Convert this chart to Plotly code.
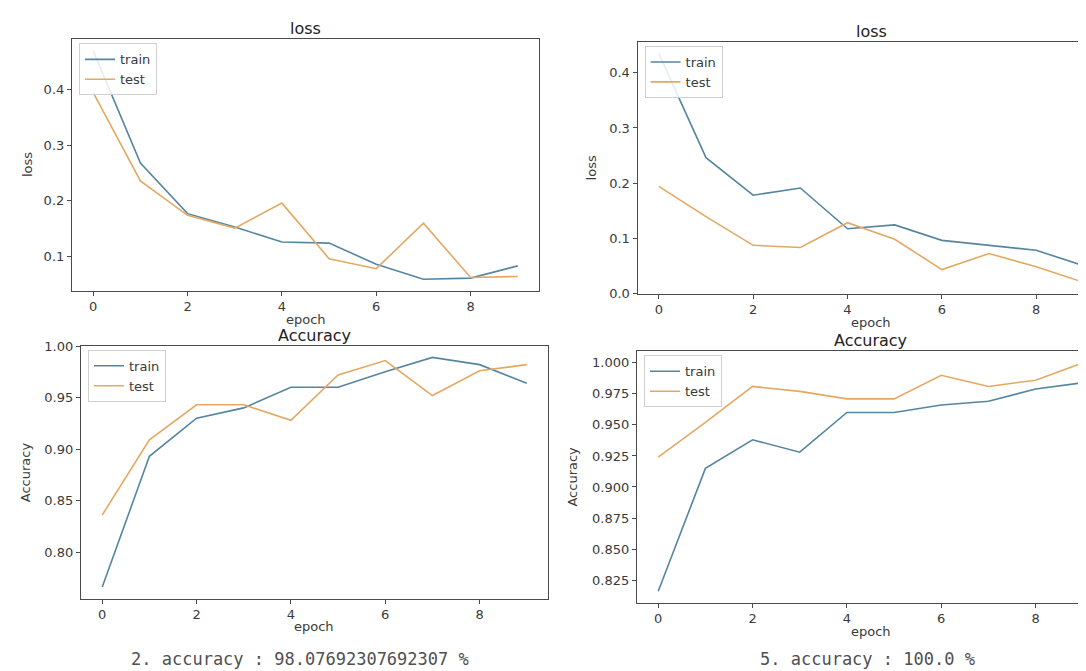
import plotly.graph_objects as go

# ---------------- data ----------------
epochs = list(range(10))
x_tick_vals = [0, 2, 4, 6, 8]

loss_train_a = [0.47, 0.268, 0.177, 0.153, 0.126, 0.124, 0.086, 0.059, 0.061, 0.083]
loss_test_a = [0.395, 0.236, 0.174, 0.151, 0.196, 0.096, 0.078, 0.160, 0.062, 0.064]
acc_train_a = [0.766, 0.893, 0.930, 0.940, 0.960, 0.960, 0.975, 0.989, 0.982, 0.964]
acc_test_a = [0.836, 0.909, 0.943, 0.943, 0.928, 0.972, 0.986, 0.952, 0.976, 0.982]

loss_train_b = [0.435, 0.246, 0.178, 0.191, 0.117, 0.124, 0.096, 0.087, 0.078, 0.050]
loss_test_b = [0.194, 0.139, 0.087, 0.083, 0.128, 0.098, 0.043, 0.072, 0.048, 0.020]
acc_train_b = [0.816, 0.915, 0.938, 0.928, 0.960, 0.960, 0.966, 0.969, 0.979, 0.984]
acc_test_b = [0.924, 0.952, 0.981, 0.977, 0.971, 0.971, 0.990, 0.981, 0.986, 1.000]

loss_ticks_a = [0.1, 0.2, 0.3, 0.4]
loss_ticks_b = [0.0, 0.1, 0.2, 0.3, 0.4]
acc_ticks_a = [0.80, 0.85, 0.90, 0.95, 1.00]
acc_ticks_b = [0.825, 0.850, 0.875, 0.900, 0.925, 0.950, 0.975, 1.000]

series_names = ["train", "test"]
result_texts = ["2. accuracy : 98.07692307692307 %", "5. accuracy : 100.0 %"]

# ---------------- styling ----------------
W, H = 1086, 671
TRAIN_C = "#55859f"
TEST_C = "#e3a862"
SPINE_C = "#4a4a4a"
TXT_C = "#3a3a3a"
FONT = "DejaVu Sans"

# panel geometry in pixels: left, right, top, bottom (right may exceed the page: cropped)
panels = [
    dict(title="loss", ylabel="loss", tr=loss_train_a, te=loss_test_a, yt=loss_ticks_a, fmt=".1f",
         px=(64, 531, 25, 281.5), ylab_x=19),
    dict(title="loss", ylabel="loss", tr=loss_train_b, te=loss_test_b, yt=loss_ticks_b, fmt=".1f",
         px=(629.6, 1096.6, 27.7, 284.6), ylab_x=583.5),
    dict(title="Accuracy", ylabel="Accuracy", tr=acc_train_a, te=acc_test_a, yt=acc_ticks_a, fmt=".2f",
         px=(73, 540, 338, 596), ylab_x=17),
    dict(title="Accuracy", ylabel="Accuracy", tr=acc_train_b, te=acc_test_b, yt=acc_ticks_b, fmt=".3f",
         px=(629, 1096, 343.6, 600.2), ylab_x=564.5),
]

fig = go.Figure()
layout = dict(width=W, height=H, margin=dict(l=0, r=0, t=0, b=0),
              paper_bgcolor="white", plot_bgcolor="white", showlegend=True,
              font=dict(family=FONT, color=TXT_C))
annotations = []

for i, p in enumerate(panels, start=1):
    l, r, t, b = p["px"]
    xs = "" if i == 1 else str(i)
    lg = "legend" if i == 1 else f"legend{i}"
    for name, vals, col in [(series_names[0], p["tr"], TRAIN_C), (series_names[1], p["te"], TEST_C)]:
        fig.add_trace(go.Scatter(x=epochs, y=vals, mode="lines", name=name,
                                 line=dict(color=col, width=1.6),
                                 xaxis=f"x{xs}", yaxis=f"y{xs}", legend=lg))
    # matplotlib-like 5% margins
    xlo, xhi = -0.45, 9.45
    vis_r = min(r, W)
    xhi_vis = xlo + (xhi - xlo) * (vis_r - l) / (r - l)
    ymin, ymax = min(p["tr"] + p["te"]), max(p["tr"] + p["te"])
    pad = 0.05 * (ymax - ymin)
    cropped = r > W
    layout[f"xaxis{xs}"] = dict(domain=[l / W, vis_r / W], range=[xlo, xhi_vis], anchor=f"y{xs}",
                                tickvals=x_tick_vals, ticks="outside", ticklen=4, tickcolor=SPINE_C,
                                showline=True, linecolor=SPINE_C, linewidth=1.2, mirror=True,
                                showgrid=False, zeroline=False,
                                tickfont=dict(family=FONT, size=13, color=TXT_C))
    layout[f"yaxis{xs}"] = dict(domain=[1 - b / H, 1 - t / H], range=[ymin - pad, ymax + pad],
                                anchor=f"x{xs}", tickvals=p["yt"], tickformat=p["fmt"],
                                ticks="outside", ticklen=4, tickcolor=SPINE_C,
                                showline=True, linecolor=SPINE_C, linewidth=1.2,
                                mirror=not cropped, showgrid=False, zeroline=False,
                                tickfont=dict(family=FONT, size=13, color=TXT_C))
    layout[lg] = dict(x=(l + 7) / W, y=1 - (t + 4) / H, xanchor="left", yanchor="top",
                      bordercolor="#d0d0d0", borderwidth=1, bgcolor="rgba(255,255,255,0.85)",
                      font=dict(family=FONT, size=13, color=TXT_C), itemwidth=30,
                      tracegroupgap=0)
    cx = (l + r) / 2
    annotations.append(dict(text=p["title"], x=cx / W, y=1 - (t - 11) / H, xref="paper", yref="paper",
                            xanchor="center", yanchor="middle", showarrow=False,
                            font=dict(family=FONT, size=16, color="#222")))
    annotations.append(dict(text="epoch", x=cx / W, y=1 - (b + 29) / H, xref="paper", yref="paper",
                            xanchor="center", yanchor="middle", showarrow=False,
                            font=dict(family=FONT, size=13, color=TXT_C)))
    annotations.append(dict(text=p["ylabel"], x=p["ylab_x"] / W, y=1 - ((t + b) / 2) / H,
                            xref="paper", yref="paper", xanchor="center", yanchor="middle",
                            textangle=-90, showarrow=False,
                            font=dict(family=FONT, size=13, color=TXT_C)))

for txt, cx in zip(result_texts, [292, 859]):
    annotations.append(dict(text=txt, x=cx / W, y=1 - 658 / H, xref="paper", yref="paper",
                            xanchor="center", yanchor="middle", showarrow=False,
                            font=dict(family="DejaVu Sans Mono", size=17, color="#505050")))

layout["annotations"] = annotations
fig.update_layout(**layout)
fig.write_html("out.html")
